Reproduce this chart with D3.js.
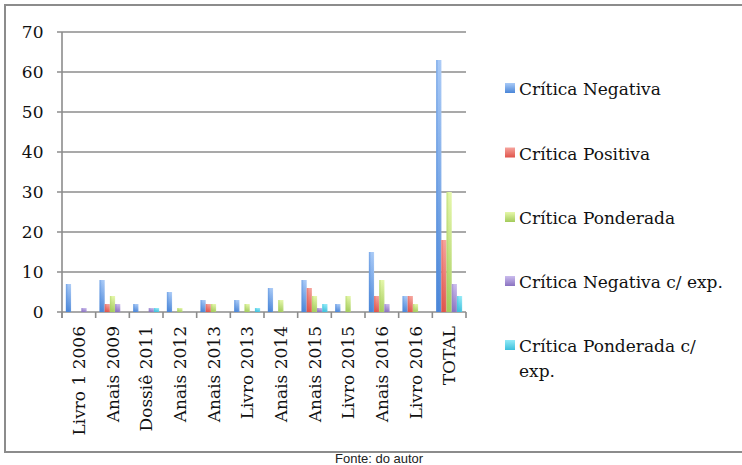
<!DOCTYPE html>
<html>
<head>
<meta charset="utf-8">
<script src="https://cdn.jsdelivr.net/npm/d3@7"></script>
<style>
  html, body { margin: 0; padding: 0; background: #fff; }
  svg { display: block; }
</style>
</head>
<body>
<svg id="chart" width="742" height="465"></svg>
<script>
// Categories (publications) and the five kinds of criticism
const categories = ["Livro 1 2006", "Anais 2009", "Dossiê 2011", "Anais 2012", "Anais 2013",
  "Livro 2013", "Anais 2014", "Anais 2015", "Livro 2015", "Anais 2016", "Livro 2016", "TOTAL"];
const seriesNames = ["Crítica Negativa", "Crítica Positiva", "Crítica Ponderada",
  "Crítica Negativa c/ exp.", "Crítica Ponderada c/ exp."];

const criticaNegativa        = [7, 8, 2, 5, 3, 3, 6, 8, 2, 15, 4, 63];
const criticaPositiva        = [0, 2, 0, 0, 2, 0, 0, 6, 0, 4, 4, 18];
const criticaPonderada       = [0, 4, 0, 1, 2, 2, 3, 4, 4, 8, 2, 30];
const criticaNegativaExp     = [1, 2, 1, 0, 0, 0, 0, 1, 0, 2, 0, 7];
const criticaPonderadaExp    = [0, 0, 1, 0, 0, 1, 0, 2, 0, 0, 0, 4];
const seriesValues = [criticaNegativa, criticaPositiva, criticaPonderada, criticaNegativaExp, criticaPonderadaExp];

const yTicks = [0, 10, 20, 30, 40, 50, 60, 70];

// light (top) and dark (bottom) shade of every series
const shades = [
  ["#a9caf7", "#4a86d8"],
  ["#f6a49d", "#e0544b"],
  ["#e6f8aa", "#a3cb5b"],
  ["#cbbcee", "#8a72c0"],
  ["#93ebf8", "#3cbfdc"]
];

const svg = d3.select("#chart");
const serif = "'DejaVu Serif', serif";
const gridColor = "#8c8c8c";

// outer frame
svg.append("rect")
  .attr("x", 5).attr("y", 5).attr("width", 745).attr("height", 447)
  .attr("fill", "#fff").attr("stroke", "#8c8c8c").attr("stroke-width", 2);

const plot = { left: 62, right: 466, top: 32, bottom: 312 };

const x = d3.scaleBand().domain(categories).range([plot.left, plot.right]).padding(0);
const x1 = d3.scaleBand().domain(d3.range(seriesNames.length))
  .range([0, x.bandwidth()]).paddingInner(0).paddingOuter(0.75);
const y = d3.scaleLinear().domain([0, 70]).range([plot.bottom, plot.top]);

// gradients
const defs = svg.append("defs");
shades.forEach((s, i) => {
  const g = defs.append("linearGradient").attr("id", "grad" + i)
    .attr("x1", 0).attr("y1", 0).attr("x2", 0).attr("y2", 1);
  g.append("stop").attr("offset", "0%").attr("stop-color", s[0]);
  g.append("stop").attr("offset", "100%").attr("stop-color", s[1]);
  const h = defs.append("linearGradient").attr("id", "side" + i)
    .attr("x1", 0).attr("y1", 0).attr("x2", 1).attr("y2", 0);
  h.append("stop").attr("offset", "0%").attr("stop-color", s[1]).attr("stop-opacity", 0.55);
  h.append("stop").attr("offset", "45%").attr("stop-color", s[1]).attr("stop-opacity", 0);
  h.append("stop").attr("offset", "100%").attr("stop-color", "#fff").attr("stop-opacity", 0.15);
});

// horizontal gridlines with their left ticks
svg.append("g").selectAll("line").data(yTicks).join("line")
  .attr("x1", plot.left - 5).attr("x2", plot.right)
  .attr("y1", d => y(d)).attr("y2", d => y(d))
  .attr("stroke", gridColor).attr("stroke-width", 1.6);

// y axis line
svg.append("line")
  .attr("x1", plot.left).attr("x2", plot.left)
  .attr("y1", plot.top).attr("y2", plot.bottom + 6)
  .attr("stroke", gridColor).attr("stroke-width", 1.6);

// y tick labels
svg.append("g").selectAll("text").data(yTicks).join("text")
  .attr("x", 43.5).attr("y", d => y(d)).attr("dy", "0.36em")
  .attr("text-anchor", "end")
  .attr("font-family", serif).attr("font-size", 17).attr("fill", "#111")
  .text(d => d);

// category ticks under the x axis
const bounds = categories.map(c => x(c)).concat([plot.right]);
svg.append("g").selectAll("line").data(bounds).join("line")
  .attr("x1", d => d).attr("x2", d => d)
  .attr("y1", plot.bottom).attr("y2", plot.bottom + 6)
  .attr("stroke", gridColor).attr("stroke-width", 1.6);

// bars
const groups = svg.append("g").selectAll("g").data(categories).join("g")
  .attr("transform", c => `translate(${x(c)},0)`);
groups.each(function(c, ci) {
  const g = d3.select(this);
  const vals = seriesValues.map((arr, si) => ({ si, v: arr[ci] })).filter(d => d.v > 0);
  g.selectAll("rect.bar").data(vals).join("rect").attr("class", "bar")
    .attr("x", d => x1(d.si)).attr("width", x1.bandwidth())
    .attr("y", d => y(d.v)).attr("height", d => y(0) - y(d.v))
    .attr("fill", d => `url(#grad${d.si})`);
  g.selectAll("rect.side").data(vals).join("rect").attr("class", "side")
    .attr("x", d => x1(d.si)).attr("width", x1.bandwidth())
    .attr("y", d => y(d.v)).attr("height", d => y(0) - y(d.v))
    .attr("fill", d => `url(#side${d.si})`);
});

// rotated category labels
svg.append("g").selectAll("text").data(categories).join("text")
  .attr("transform", c => `translate(${x(c) + x.bandwidth() / 2 + 6},${plot.bottom + 14}) rotate(-90)`)
  .attr("text-anchor", "end")
  .attr("font-family", serif).attr("font-size", 17).attr("fill", "#111")
  .text(c => c);

// legend
const legendY = [90, 154.5, 219, 283, 347];
const legend = svg.append("g");
seriesNames.forEach((name, i) => {
  const ly = legendY[i];
  legend.append("rect")
    .attr("x", 505).attr("y", ly - 7).attr("width", 10).attr("height", 10)
    .attr("fill", `url(#grad${i})`);
  const t = legend.append("text")
    .attr("x", 519).attr("y", ly + 5)
    .attr("font-family", serif).attr("font-size", 17).attr("fill", "#111");
  if (name === "Crítica Ponderada c/ exp.") {
    t.append("tspan").attr("x", 519).text("Crítica Ponderada c/");
    t.append("tspan").attr("x", 519).attr("dy", 25).text("exp.");
  } else {
    t.text(name);
  }
});

// source note
svg.append("text")
  .attr("x", 335).attr("y", 463)
  .attr("font-family", "'Liberation Sans', Arial, sans-serif").attr("font-size", 13)
  .attr("fill", "#222")
  .text("Fonte: do autor");
</script>
</body>
</html>
